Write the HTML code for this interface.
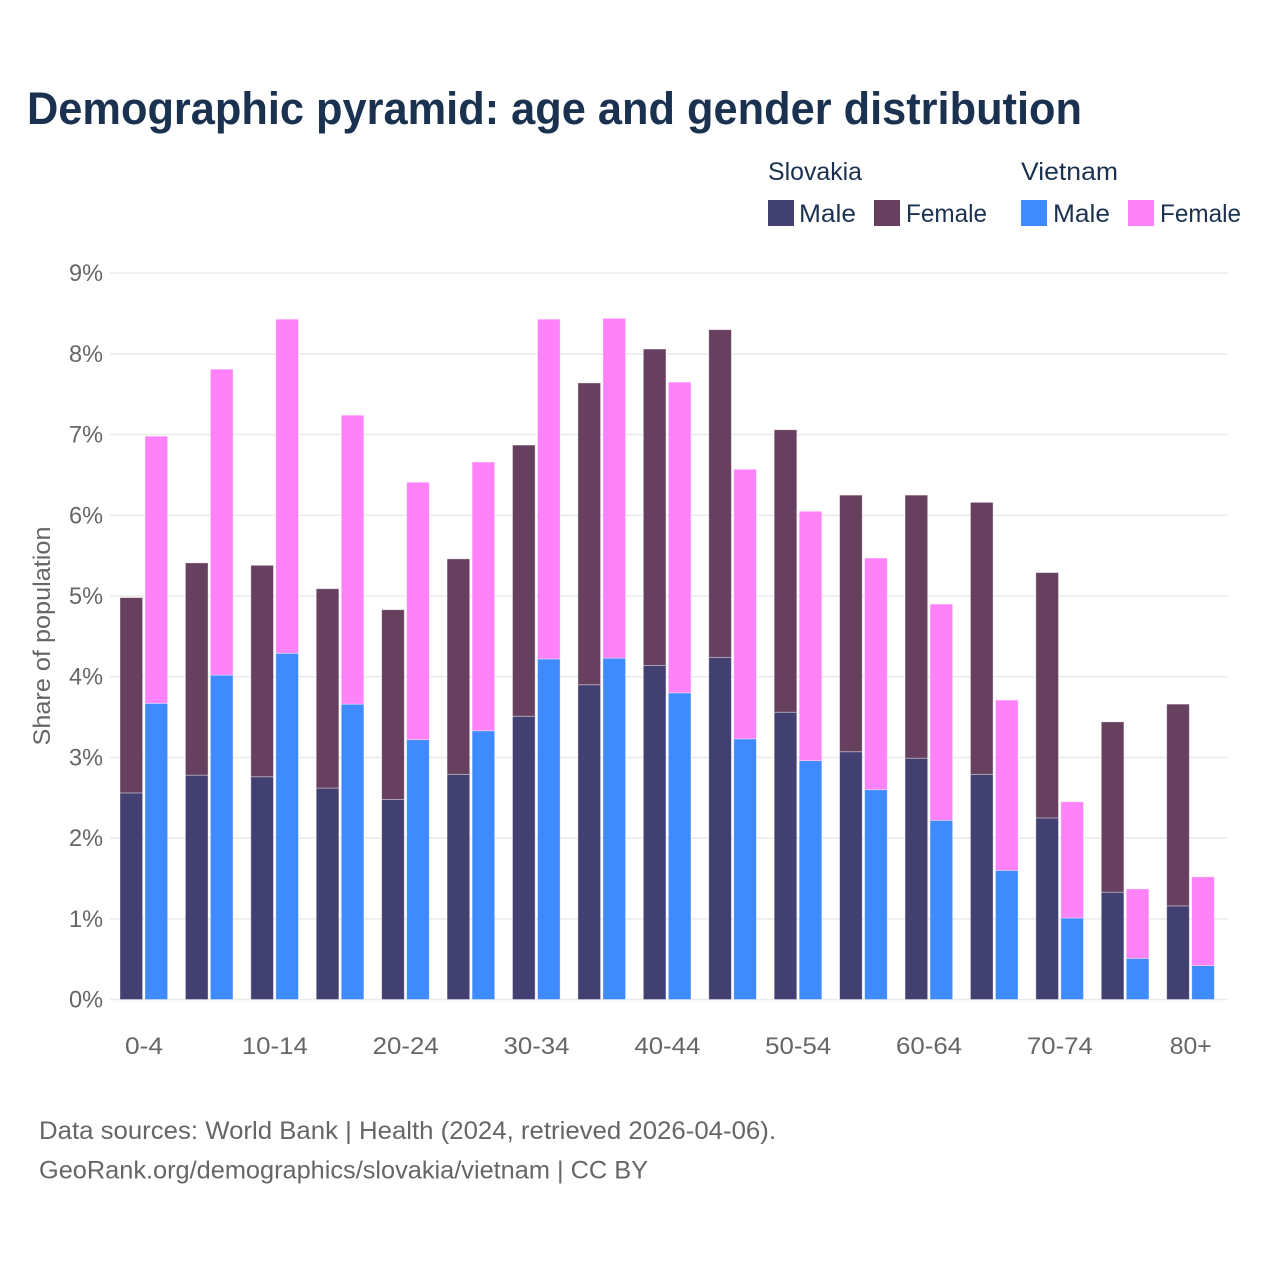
<!DOCTYPE html>
<html lang="en">
<head>
<meta charset="utf-8">
<title>Demographic pyramid</title>
<style>
html,body{margin:0;padding:0;background:#fff}
svg{display:block}
text{font-family:"Liberation Sans",sans-serif}
</style>
</head>
<body>
<svg id="chart" xmlns="http://www.w3.org/2000/svg" width="1280" height="1280" viewBox="0 0 1280 1280">
<rect x="0" y="0" width="1280" height="1280" fill="#ffffff"/>
<text x="27" y="124" font-size="45" font-weight="700" fill="#1a3150" textLength="1055" lengthAdjust="spacingAndGlyphs">Demographic pyramid: age and gender distribution</text>
<g font-size="25" fill="#1a3150">
<text x="768" y="180" textLength="94" lengthAdjust="spacingAndGlyphs">Slovakia</text>
<text x="1021" y="180" textLength="97" lengthAdjust="spacingAndGlyphs">Vietnam</text>
<rect x="768" y="200" width="26" height="26" fill="#423f71"/>
<text x="799" y="222" textLength="57" lengthAdjust="spacingAndGlyphs">Male</text>
<rect x="874" y="200" width="26" height="26" fill="#67405f"/>
<text x="906" y="222" textLength="81" lengthAdjust="spacingAndGlyphs">Female</text>
<rect x="1021" y="200" width="26" height="26" fill="#408aff"/>
<text x="1053" y="222" textLength="57" lengthAdjust="spacingAndGlyphs">Male</text>
<rect x="1128" y="200" width="26" height="26" fill="#ff82f8"/>
<text x="1160" y="222" textLength="81" lengthAdjust="spacingAndGlyphs">Female</text>
</g>
<g id="grid"></g>
<g id="yticks"></g>
<g id="bars"></g>
<g id="xticks"></g>
<text transform="translate(50,636) rotate(-90)" text-anchor="middle" font-size="24" fill="#666666" textLength="219" lengthAdjust="spacingAndGlyphs">Share of population</text>
<text x="39" y="1139" font-size="25" fill="#666666" textLength="737" lengthAdjust="spacingAndGlyphs">Data sources: World Bank | Health (2024, retrieved 2026-04-06).</text>
<text x="39" y="1178.5" font-size="25" fill="#666666" textLength="609" lengthAdjust="spacingAndGlyphs">GeoRank.org/demographics/slovakia/vietnam | CC BY</text>
</svg>
<script>
const ageGroups = ["0-4","5-9","10-14","15-19","20-24","25-29","30-34","35-39","40-44","45-49","50-54","55-59","60-64","65-69","70-74","75-79","80+"];
const xTickLabels = ["0-4","","10-14","","20-24","","30-34","","40-44","","50-54","","60-64","","70-74","","80+"];
const yTicks = [0,1,2,3,4,5,6,7,8,9];
const slovakiaMale = [2.56,2.78,2.76,2.62,2.48,2.79,3.51,3.90,4.14,4.24,3.56,3.07,2.99,2.79,2.25,1.33,1.16];
const slovakiaFemale = [2.42,2.63,2.62,2.47,2.35,2.67,3.36,3.74,3.92,4.06,3.50,3.18,3.26,3.37,3.04,2.11,2.50];
const vietnamMale = [3.67,4.02,4.29,3.66,3.22,3.33,4.22,4.23,3.80,3.23,2.96,2.60,2.22,1.60,1.01,0.51,0.42];
const vietnamFemale = [3.31,3.79,4.14,3.58,3.19,3.33,4.21,4.21,3.85,3.34,3.09,2.87,2.68,2.11,1.44,0.86,1.10];

const NS = "http://www.w3.org/2000/svg";
const y0 = 999.5, unitHeight = 80.7;
const x0 = 120, groupStep = 65.42, barWidth = 22.6, barOffset = 25;
function yScale(v) { return y0 - v * unitHeight; }
function xScale(i) { return x0 + i * groupStep; }

function addBar(parent, name, x, base, value, fill) {
  const r = document.createElementNS(NS, "rect");
  
  
  r.setAttribute("x", x);
  r.setAttribute("y", yScale(base + value));
  r.setAttribute("width", barWidth);
  r.setAttribute("height", value * unitHeight);
  r.setAttribute("fill", fill);
  r.setAttribute("stroke", "#ffffff");
  r.setAttribute("stroke-opacity", "0.45");
  r.setAttribute("stroke-width", "0.8");
  parent.appendChild(r);
}

const grid = document.getElementById("grid");
const yt = document.getElementById("yticks");
yTicks.forEach(function (t) {
  const l = document.createElementNS(NS, "line");
  
  
  l.setAttribute("x1", 110);
  l.setAttribute("x2", 1228);
  l.setAttribute("y1", yScale(t));
  l.setAttribute("y2", yScale(t));
  l.setAttribute("stroke", "#ebebeb");
  l.setAttribute("stroke-width", "1.6");
  grid.appendChild(l);
  const s = document.createElementNS(NS, "text");
  
  
  s.setAttribute("x", 103);
  s.setAttribute("y", yScale(t) + 8);
  s.setAttribute("text-anchor", "end");
  s.setAttribute("font-size", "24");
  s.setAttribute("fill", "#666666");
  s.setAttribute("textLength", "34");
  s.setAttribute("lengthAdjust", "spacingAndGlyphs");
  s.textContent = t + "%";
  yt.appendChild(s);
});

const bars = document.getElementById("bars");
ageGroups.forEach(function (age, i) {
  const x = xScale(i);
  addBar(bars, "bar-slovakia-male-" + age, x, 0, slovakiaMale[i], "#423f71");
  addBar(bars, "bar-slovakia-female-" + age, x, slovakiaMale[i], slovakiaFemale[i], "#67405f");
  addBar(bars, "bar-vietnam-male-" + age, x + barOffset, 0, vietnamMale[i], "#408aff");
  addBar(bars, "bar-vietnam-female-" + age, x + barOffset, vietnamMale[i], vietnamFemale[i], "#ff82f8");
});

const xt = document.getElementById("xticks");
xTickLabels.forEach(function (lab, i) {
  if (!lab) return;
  const s = document.createElementNS(NS, "text");
  
  
  s.setAttribute("x", xScale(i) + 24);
  s.setAttribute("y", 1054);
  s.setAttribute("text-anchor", "middle");
  s.setAttribute("font-size", "24");
  s.setAttribute("fill", "#666666");
  s.setAttribute("textLength", lab === "80+" ? "42" : (lab.length === 3 ? "38" : "66"));
  s.setAttribute("lengthAdjust", "spacingAndGlyphs");
  s.textContent = lab;
  xt.appendChild(s);
});
</script>
</body>
</html>
